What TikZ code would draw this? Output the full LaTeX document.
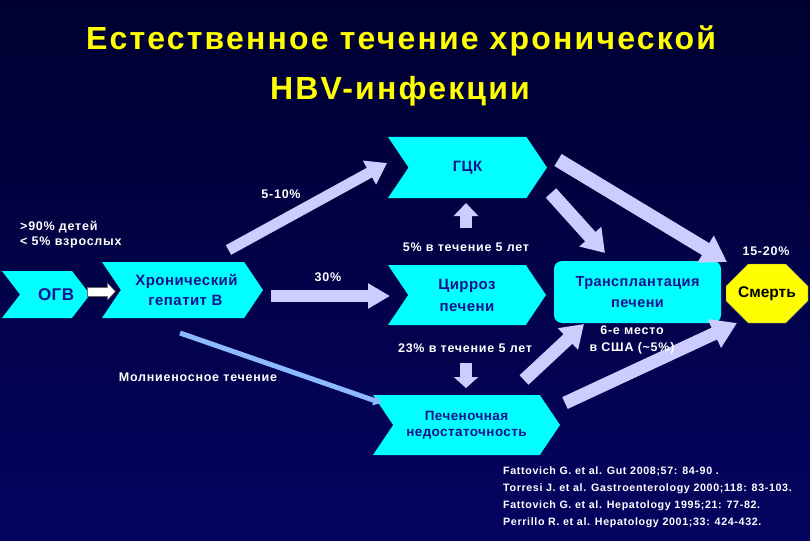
\documentclass[tikz,border=0pt]{standalone}
\usepackage{fontspec}
\setmainfont{Liberation Sans}
\newfontfamily\titlefont{Liberation Sans}[LetterSpace=6.8]
\newfontfamily\notefont{Liberation Sans}[LetterSpace=6]
\newfontfamily\stagefont{Liberation Sans}[LetterSpace=3]
\usetikzlibrary{shapes.symbols, shapes.misc, arrows.meta}

\definecolor{slidetop}{RGB}{0,0,48}
\definecolor{slidebottom}{RGB}{4,4,96}
\definecolor{stagecyan}{RGB}{0,255,255}
\definecolor{stagetext}{RGB}{20,20,140}
\definecolor{lavender}{RGB}{204,204,255}
\definecolor{flashblue}{RGB}{140,185,255}
\definecolor{deathyellow}{RGB}{255,255,0}

\begin{document}
\begin{tikzpicture}[
    x=1pt, y=-1pt,
    stage/.style={signal, signal from=west, signal to=east, signal pointer angle=112, fill=stagecyan, text=stagetext, align=center, inner sep=0pt, font=\stagefont\bfseries\fontsize{15}{20}\selectfont},
    fatarrow/.style={draw=lavender, line width=12pt, -{Triangle[width=26pt,length=20pt]}},
    note/.style={text=white, anchor=base, inner sep=0pt, font=\notefont\bfseries\fontsize{12.5}{15}\selectfont}
]
\useasboundingbox (0,0) rectangle (810,540);
\fill[top color=slidetop, bottom color=slidebottom] (0,0) rectangle (810,540);

% title
\node[anchor=base, text=deathyellow, font=\titlefont\bfseries\fontsize{32}{38}\selectfont] (titlea) at (401,50) {Естественное течение хронической};
\node[anchor=base, text=deathyellow, font=\titlefont\bfseries\fontsize{32}{38}\selectfont] (titleb) at (400,100) {HBV-инфекции};

% stages
\node[stage, minimum width=88pt, minimum height=47pt, signal pointer angle=105, font=\stagefont\bfseries\fontsize{17}{20}\selectfont] (ogv) at (46,294.5) {\rlap{\hspace*{-8pt}ОГВ}};
\node[stage, minimum width=161pt, minimum height=56pt] (chb) at (182.5,290) {\hspace*{8pt}Хронический\\\hspace*{6pt}гепатит В};
\node[stage, minimum width=159pt, minimum height=61pt] (hcc) at (467.5,167.5) {ГЦК};
\node[stage, minimum width=158pt, minimum height=60pt, font=\stagefont\bfseries\fontsize{15}{22}\selectfont] (cirr) at (467,295) {Цирроз\\печени};
\node[stage, minimum width=187pt, minimum height=60pt, font=\stagefont\bfseries\fontsize{13.5}{16}\selectfont] (fail) at (466.5,425) {Печеночная\\недостаточность};
\node[rectangle, rounded corners=8pt, fill=stagecyan, text=stagetext, minimum width=167pt, minimum height=62pt, align=center, font=\stagefont\bfseries\fontsize{14.5}{21}\selectfont] (ltx) at (637.5,292) {Трансплантация\\печени};
\node[chamfered rectangle, chamfered rectangle xsep=16pt, chamfered rectangle ysep=15pt, fill=deathyellow, draw=black!60, minimum width=82pt, minimum height=59pt, inner sep=0pt, font=\bfseries\fontsize{15.5}{18}\selectfont] (death) at (767,293.5) {Смерть};

% arrows
\draw[black!60, line width=10pt, -{Triangle[width=18pt,length=9pt]}] ([shift={(41,-3)}]ogv.center) -- ([shift={(-66.5,1.5)}]chb.center);
\draw[white, line width=8pt, -{Triangle[width=15pt,length=7pt]}, shorten <=1pt, shorten >=1.2pt] ([shift={(41,-3)}]ogv.center) -- ([shift={(-66.5,1.5)}]chb.center);
\draw[fatarrow, line width=11pt] ([shift={(46,-40)}]chb.center) -- ([shift={(-80.5,-4.5)}]hcc.center);
\draw[fatarrow, -{Triangle[width=24pt,length=22pt]}] ([shift={(88.5,6)}]chb.center) -- ([shift={(-77,1)}]cirr.center);
\draw[flashblue, line width=5pt, -{Triangle[width=10pt,length=8pt]}] ([shift={(-2.5,43)}]chb.center) -- ([shift={(-85,-22)}]fail.center);
\draw[fatarrow, -{Triangle[width=24pt,length=13pt]}] ([shift={(-1,-67)}]cirr.center) -- ([shift={(-1.5,35.5)}]hcc.center);
\draw[fatarrow, -{Triangle[width=24pt,length=11pt]}] ([shift={(-1,68)}]cirr.center) -- ([shift={(-0.5,-37)}]fail.center);
\draw[fatarrow, line width=14pt, -{Triangle[width=28pt,length=22pt]}] ([shift={(83.5,25.5)}]hcc.center) -- ([shift={(-32.5,-39)}]ltx.center);
\draw[fatarrow, line width=14pt, -{Triangle[width=30pt,length=25pt]}] ([shift={(90.5,-7.5)}]hcc.center) -- ([shift={(-40,-31.5)}]death.center);
\draw[fatarrow, line width=13pt, -{Triangle[width=28pt,length=22pt]}] ([shift={(57.5,-45)}]fail.center) -- ([shift={(-53.5,32)}]ltx.center);
\draw[fatarrow, line width=13pt, -{Triangle[width=30pt,length=25pt]}] ([shift={(98.5,-22)}]fail.center) -- ([shift={(-30,29.5)}]death.center);

% labels
\node[note] (hccrate) at (281,198) {5-10\%};
\node[note, anchor=west, align=left] (onset) at (20,234.5) {>90\% детей\\< 5\% взрослых};
\node[note] (cirrrate) at (328,281) {30\%};
\node[note] (fulminant) at (198,381) {Молниеносное течение};
\node[note] (uprate) at (466,251) {5\% в течение 5 лет};
\node[note] (downrate) at (465,352) {23\% в течение 5 лет};
\node[note] (mortality) at (766,255) {15-20\%};
\node[note, anchor=center, align=center, font=\notefont\bfseries\fontsize{12.5}{17}\selectfont] (rank) at (632,339.5) {6-е место\\в США (\textasciitilde5\%)};

% references
\node[note, anchor=west, align=left, font=\notefont\bfseries\fontsize{10.7}{17}\selectfont] (refs) at (503,497.5) {Fattovich G. et al. Gut 2008;57: 84-90 .\\Torresi J. et al. Gastroenterology 2000;118: 83-103.\\Fattovich G. et al. Hepatology 1995;21: 77-82.\\Perrillo R. et al. Hepatology 2001;33: 424-432.};
\end{tikzpicture}
\end{document}
